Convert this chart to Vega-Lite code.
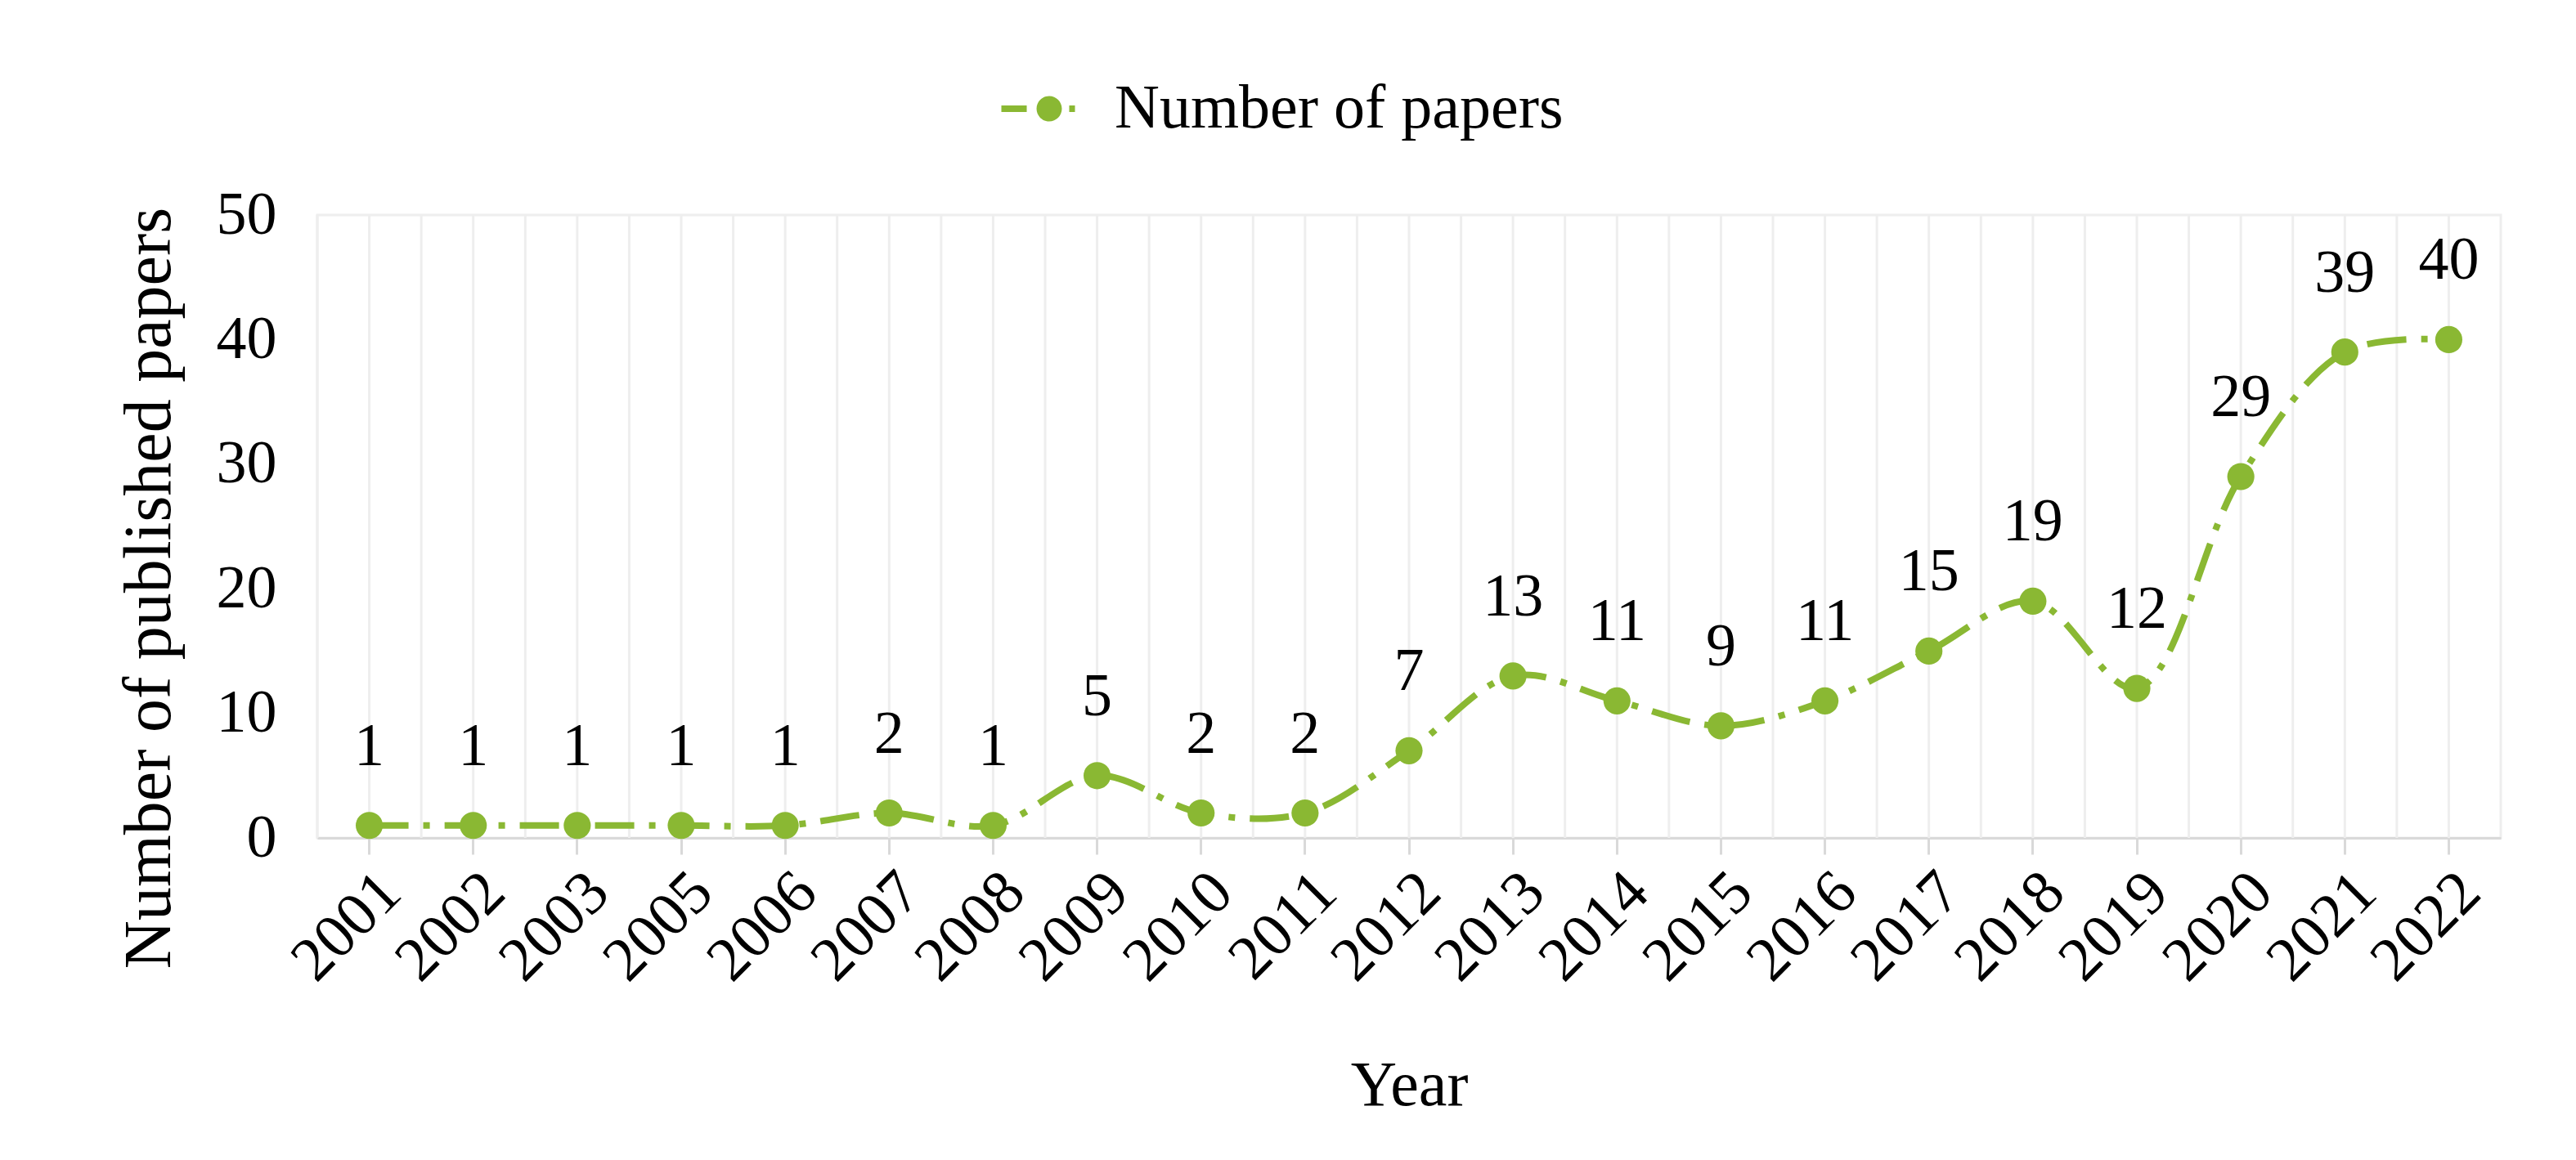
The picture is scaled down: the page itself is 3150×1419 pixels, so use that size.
{
  "$schema": "https://vega.github.io/schema/vega-lite/v6.json",
  "width": 2670,
  "height": 762,
  "autosize": {"type": "none"},
  "padding": {"left": 388, "top": 263, "right": 92, "bottom": 394},
  "background": "white",
  "config": {
    "font": "Liberation Serif",
    "view": {"stroke": "#eeeeee", "strokeWidth": 3},
    "axisX": {
      "domainColor": "#d9d9d9", "domainWidth": 3,
      "tickColor": "#d9d9d9", "tickWidth": 3, "tickSize": 20,
      "labelAngle": -45, "labelFontSize": 76, "labelColor": "black", "labelPadding": 8,
      "titleFontSize": 78, "titleFontWeight": "normal", "titleColor": "black", "titlePadding": 76,
      "grid": false
    },
    "axisY": {
      "domain": false, "ticks": false, "grid": false,
      "labelFontSize": 74, "labelColor": "black", "labelPadding": 50,
      "titleFontSize": 82, "titleFontWeight": "normal", "titleColor": "black", "titlePadding": 40,
      "titleY": 456
    },
    "legend": {"padding": 0}
  },
  "data": {
    "values": [
      {"year": "2001", "papers": 1},
      {"year": "2002", "papers": 1},
      {"year": "2003", "papers": 1},
      {"year": "2005", "papers": 1},
      {"year": "2006", "papers": 1},
      {"year": "2007", "papers": 2},
      {"year": "2008", "papers": 1},
      {"year": "2009", "papers": 5},
      {"year": "2010", "papers": 2},
      {"year": "2011", "papers": 2},
      {"year": "2012", "papers": 7},
      {"year": "2013", "papers": 13},
      {"year": "2014", "papers": 11},
      {"year": "2015", "papers": 9},
      {"year": "2016", "papers": 11},
      {"year": "2017", "papers": 15},
      {"year": "2018", "papers": 19},
      {"year": "2019", "papers": 12},
      {"year": "2020", "papers": 29},
      {"year": "2021", "papers": 39},
      {"year": "2022", "papers": 40}
    ]
  },
  "layer": [
    {
      "mark": {"type": "rule", "color": "#eeeeee", "strokeWidth": 3},
      "encoding": {
        "x": {"field": "year", "type": "ordinal", "bandPosition": 0, "title": "Year",
              "scale": {"type": "band", "paddingInner": 0, "paddingOuter": 0}}
      }
    },
    {
      "mark": {"type": "rule", "color": "#eeeeee", "strokeWidth": 3},
      "encoding": {
        "x": {"field": "year", "type": "ordinal", "bandPosition": 0.5, "title": "Year",
              "scale": {"type": "band", "paddingInner": 0, "paddingOuter": 0}}
      }
    },
    {
      "mark": {"type": "line", "interpolate": "catmull-rom", "color": "#8ab833", "strokeWidth": 8, "strokeDash": [48, 18, 8, 18]},
      "encoding": {
        "x": {"field": "year", "type": "ordinal", "bandPosition": 0.5, "title": "Year",
              "scale": {"type": "band", "paddingInner": 0, "paddingOuter": 0}},
        "y": {"field": "papers", "type": "quantitative", "title": "Number of published papers",
              "scale": {"domain": [0, 50], "nice": false}, "axis": {"values": [0, 10, 20, 30, 40, 50]}}
      }
    },
    {
      "mark": {"type": "point", "filled": true, "opacity": 1, "size": 1100, "strokeWidth": 0},
      "encoding": {
        "x": {"field": "year", "type": "ordinal", "bandPosition": 0.5, "title": "Year",
              "scale": {"type": "band", "paddingInner": 0, "paddingOuter": 0}},
        "y": {"field": "papers", "type": "quantitative", "title": "Number of published papers",
              "scale": {"domain": [0, 50], "nice": false}, "axis": {"values": [0, 10, 20, 30, 40, 50]}},
        "color": {
          "datum": "Number of papers",
          "scale": {"range": ["#8ab833"]},
          "legend": {
            "orient": "none", "legendX": 835, "legendY": -190, "title": null,
            "labelFontSize": 76, "labelColor": "black", "labelOffset": 20, "labelLimit": 0,
            "symbolType": "M-0.975,-0.067H-0.458V0.067H-0.975Z M-0.258,0A0.258,0.258 0 1,0 0.258,0A0.258,0.258 0 1,0 -0.258,0Z M0.408,-0.067H0.525V0.067H0.408Z",
            "symbolSize": 14400, "symbolFillColor": "#8ab833", "symbolStrokeWidth": 0, "symbolOpacity": 1
          }
        }
      }
    },
    {
      "mark": {"type": "text", "dy": -74, "baseline": "alphabetic", "fontSize": 74, "color": "black"},
      "encoding": {
        "x": {"field": "year", "type": "ordinal", "bandPosition": 0.5, "title": "Year",
              "scale": {"type": "band", "paddingInner": 0, "paddingOuter": 0}},
        "y": {"field": "papers", "type": "quantitative", "title": "Number of published papers",
              "scale": {"domain": [0, 50], "nice": false}, "axis": {"values": [0, 10, 20, 30, 40, 50]}},
        "text": {"field": "papers", "type": "quantitative"}
      }
    }
  ]
}
